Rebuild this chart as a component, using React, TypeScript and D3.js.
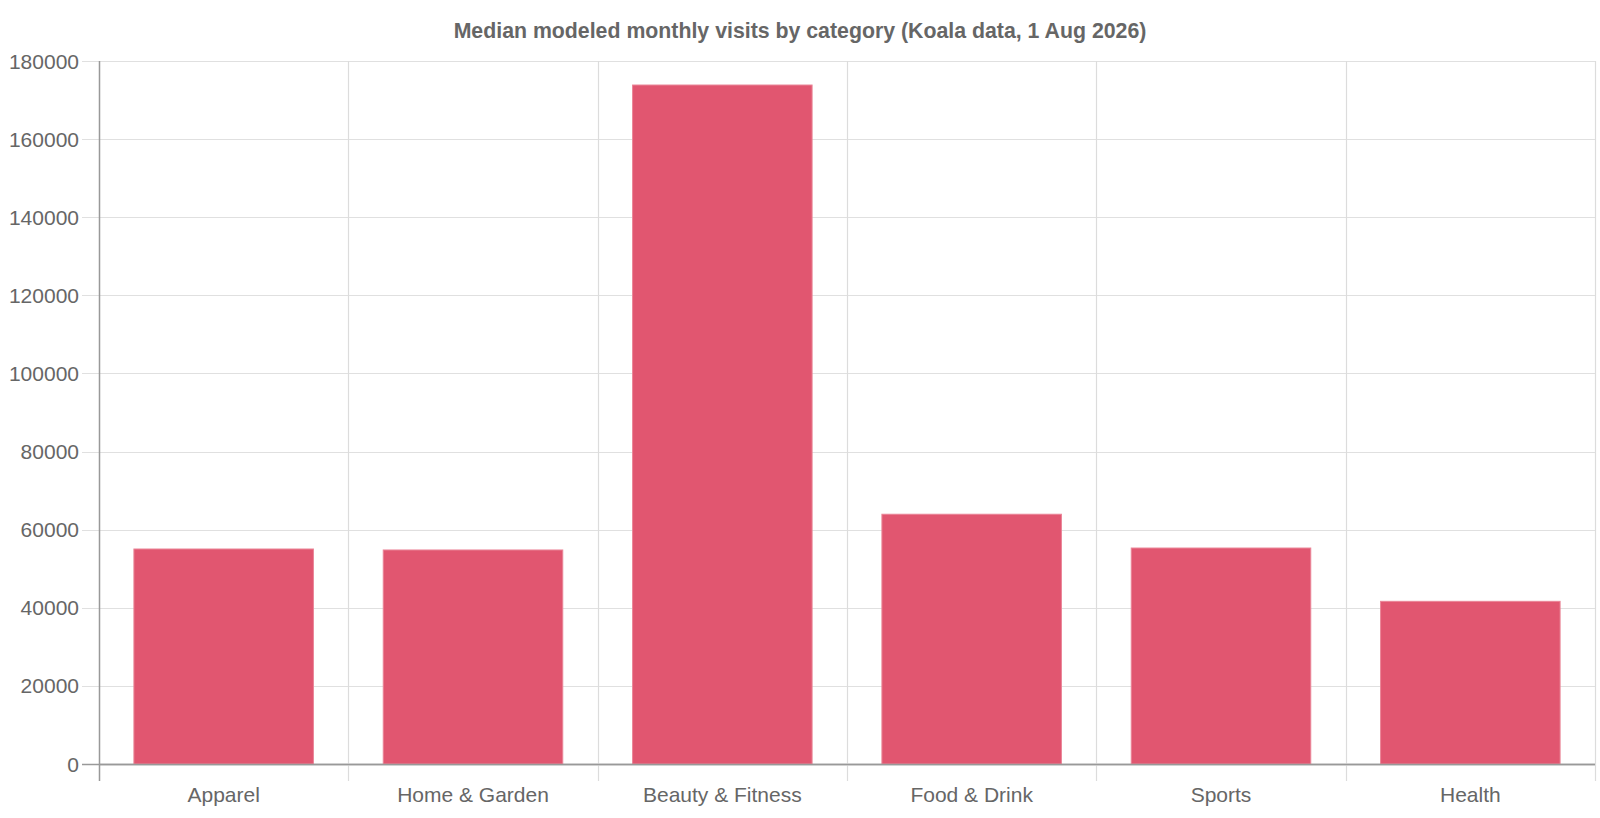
import * as d3 from 'd3';
import { useEffect, useRef } from 'react';

const categories = ['Apparel', 'Home & Garden', 'Beauty & Fitness', 'Food & Drink', 'Sports', 'Health'];
const visits = [55050, 54800, 173850, 63950, 55300, 41650];
const yTicks = [0, 20000, 40000, 60000, 80000, 100000, 120000, 140000, 160000, 180000];
const title = 'Median modeled monthly visits by category (Koala data, 1 Aug 2026)';

export default function App() {
    const chartRef = useRef<SVGSVGElement | null>(null);

    useEffect(() => {
        if (!chartRef.current) return;
        const svg = d3.select(chartRef.current);
        svg.selectAll('*').remove();

        const width = 1600;
        const height = 818;
        const margin = { top: 61, right: 5, bottom: 54, left: 99 };
        const font = '"Liberation Sans", Arial, sans-serif';

        const x = d3
            .scaleBand()
            .domain(categories)
            .range([margin.left, width - margin.right])
            .paddingInner(0)
            .paddingOuter(0);

        const y = d3
            .scaleLinear()
            .domain([0, 180000])
            .range([height - margin.bottom, margin.top]);

        const bottom = height - margin.bottom;

        // title, centred on the whole canvas
        svg.append('text')
            .attr('x', width / 2)
            .attr('y', 31)
            .attr('text-anchor', 'middle')
            .attr('dominant-baseline', 'central')
            .style('font-family', font)
            .style('font-size', '21.3px')
            .style('font-weight', 'bold')
            .attr('fill', '#666')
            .text(title);

        // horizontal gridlines
        svg.append('g')
            .selectAll('line')
            .data(yTicks)
            .join('line')
            .attr('x1', margin.left - 17)
            .attr('x2', width - margin.right)
            .attr('y1', (d) => Math.round(y(d)) + 0.5)
            .attr('y2', (d) => Math.round(y(d)) + 0.5)
            .attr('stroke', (d) => (d === 0 ? '#999' : '#e0e0e0'))
            .attr('stroke-width', (d) => (d === 0 ? 1.5 : 1.2));

        // vertical gridlines (category boundaries)
        const bounds = categories.map((c) => x(c)!).concat([width - margin.right]);
        svg.append('g')
            .selectAll('line')
            .data(bounds)
            .join('line')
            .attr('x1', (d) => Math.round(d) + 0.5)
            .attr('x2', (d) => Math.round(d) + 0.5)
            .attr('y1', margin.top)
            .attr('y2', bottom + 17)
            .attr('stroke', (_, i) => (i === 0 ? '#999' : '#dcdcdc'))
            .attr('stroke-width', (_, i) => (i === 0 ? 1.5 : 1.2));

        // bars
        const barW = x.bandwidth() * 0.72;
        svg.append('g')
            .selectAll('rect')
            .data(categories)
            .join('rect')
            .attr('x', (d) => x(d)! + (x.bandwidth() - barW) / 2)
            .attr('y', (_, i) => y(visits[i]))
            .attr('width', barW)
            .attr('height', (_, i) => bottom - y(visits[i]))
            .attr('fill', '#e15670')
            .attr('stroke', '#ea8597')
            .attr('stroke-width', 1);

        // redraw baseline on top of bars
        svg.append('line')
            .attr('x1', margin.left)
            .attr('x2', width - margin.right)
            .attr('y1', Math.round(bottom) + 0.5)
            .attr('y2', Math.round(bottom) + 0.5)
            .attr('stroke', '#999')
            .attr('stroke-width', 1.5);

        // y tick labels
        svg.append('g')
            .selectAll('text')
            .data(yTicks)
            .join('text')
            .attr('x', margin.left - 20)
            .attr('y', (d) => y(d))
            .attr('text-anchor', 'end')
            .attr('dominant-baseline', 'central')
            .style('font-family', font)
            .style('font-size', '21px')
            .attr('fill', '#666')
            .text((d) => String(d));

        // x tick labels
        svg.append('g')
            .selectAll('text')
            .data(categories)
            .join('text')
            .attr('x', (d) => x(d)! + x.bandwidth() / 2)
            .attr('y', bottom + 30)
            .attr('text-anchor', 'middle')
            .attr('dominant-baseline', 'central')
            .style('font-family', font)
            .style('font-size', '21px')
            .attr('fill', '#666')
            .text((d) => d);
    }, []);

    return (
        <svg
            ref={chartRef}
            width={1600}
            height={818}
            style={{ position: 'absolute', left: 0, top: 0, background: '#fff' }}
        />
    );
}
